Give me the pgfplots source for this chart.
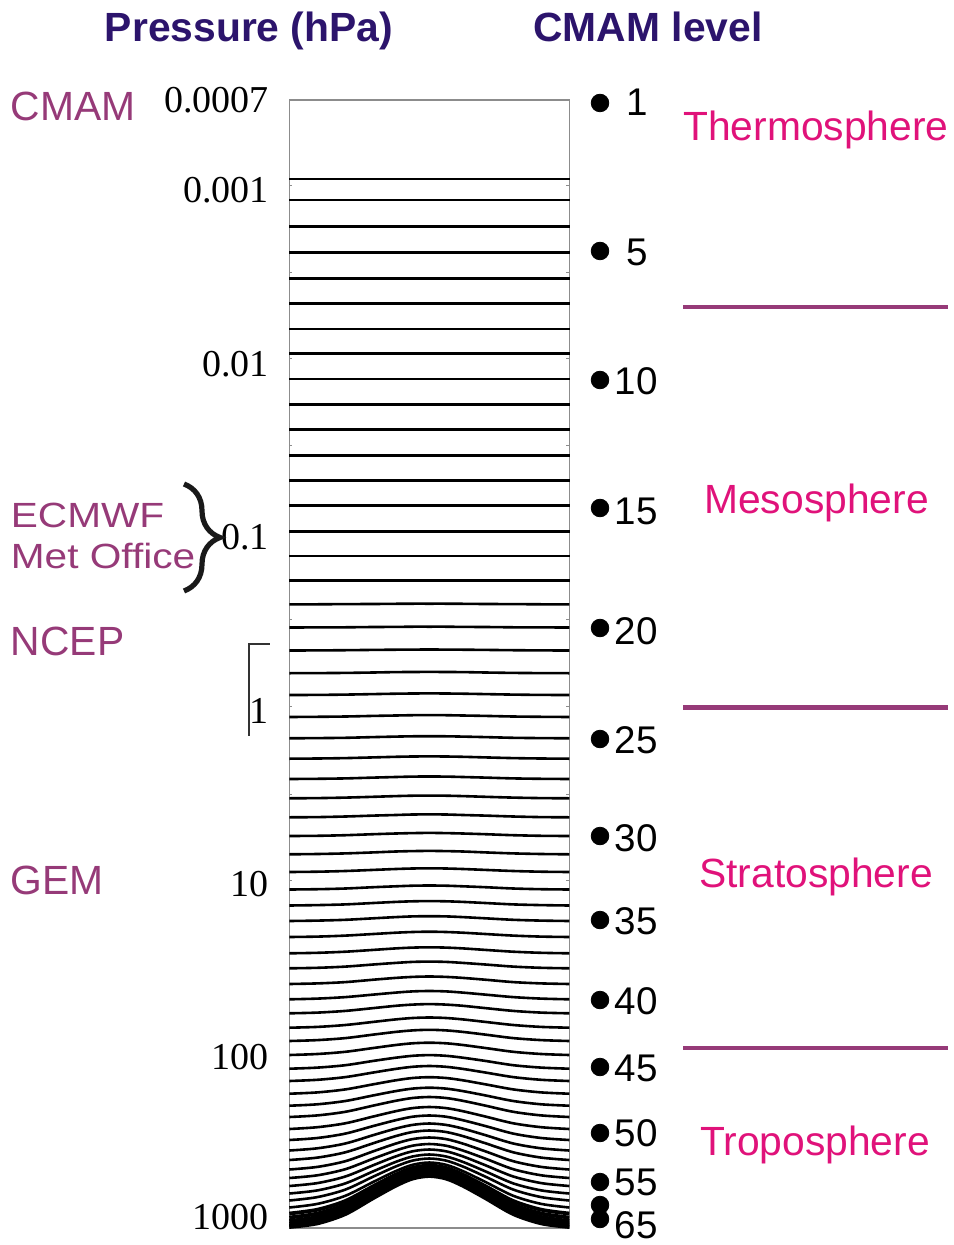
\documentclass[border=0pt]{standalone}
\usepackage{fontspec}
\setmainfont{Liberation Sans}
\newfontfamily\tnr{Liberation Serif}
\newfontfamily\arialwide[FakeStretch=1.16]{Liberation Sans}
\usepackage{pgfplots}
\pgfplotsset{compat=1.18}
\usepackage{pgfplotstable}
\usetikzlibrary{decorations.pathreplacing}
\definecolor{titlenavy}{RGB}{44,20,108}
\definecolor{plum}{RGB}{150,58,120}
\definecolor{layermag}{RGB}{224,18,122}
\newcommand\fsBig{\fontsize{20.4pt}{24pt}\selectfont}
\newcommand\fsMid{\fontsize{17.5pt}{21pt}\selectfont}
\newcommand\fsNum{\fontsize{19.3pt}{23pt}\selectfont}
\newcommand\fsTick{\fontsize{19pt}{22pt}\selectfont}
\pgfplotsset{levline/.style={black, line width=1.3pt, smooth},
             sfcline/.style={black, line width=1.9pt, smooth}}

% model levels 19-59: y position (log-pressure, picture units) at the edge (e),
% on the flanks (a,b,c,d,g) and over the mountain top (p)
\pgfplotstableread{
lev e a b c d g p
19 604.3 604.3 604.1 604.0 603.8 603.7 603.7
20 627.5 627.4 627.3 627.0 626.9 626.7 626.7
21 650.5 650.4 650.2 649.9 649.7 649.6 649.5
22 673.2 673.1 672.9 672.5 672.1 672.0 671.9
23 695.0 694.9 694.6 694.1 693.7 693.5 693.4
24 717.0 716.8 716.5 715.9 715.5 715.2 715.1
25 738.3 738.1 737.8 737.1 736.6 736.3 736.2
26 758.7 758.5 758.1 757.4 756.8 756.5 756.4
27 779.0 778.8 778.4 777.6 777.0 776.6 776.5
28 798.3 798.1 797.6 796.8 796.1 795.7 795.6
29 817.3 817.1 816.5 815.6 815.0 814.5 814.4
30 836.0 835.8 835.2 834.2 833.5 833.1 832.9
31 854.3 854.0 853.4 852.4 851.5 851.1 850.9
32 872.0 871.7 871.0 869.9 869.0 868.5 868.3
33 889.5 889.2 888.5 887.2 886.3 885.7 885.5
34 905.5 905.1 904.4 903.0 901.9 901.3 901.1
35 921.0 920.6 919.8 918.3 917.1 916.4 916.2
36 937.0 936.6 935.6 934.0 932.7 932.0 931.7
37 953.3 952.8 951.7 949.9 948.4 947.6 947.3
38 968.3 967.8 966.6 964.5 962.9 961.9 961.6
39 984.0 983.4 982.1 979.7 977.9 976.9 976.5
40 999.3 998.6 997.1 994.6 992.6 991.4 991.0
41 1013.3 1012.6 1010.9 1008.1 1005.8 1004.6 1004.1
42 1027.7 1026.9 1025.0 1021.9 1019.4 1018.0 1017.5
43 1041.0 1040.1 1038.1 1034.6 1031.9 1030.4 1029.8
44 1055.0 1054.0 1051.8 1048.0 1045.0 1043.3 1042.7
45 1068.7 1067.6 1065.2 1060.9 1057.7 1055.8 1055.1
46 1081.0 1079.8 1077.1 1072.5 1068.9 1066.8 1066.0
47 1093.7 1092.4 1089.4 1084.3 1080.3 1078.0 1077.2
48 1105.7 1104.3 1101.0 1095.4 1091.1 1088.6 1087.7
49 1117.0 1115.4 1111.8 1105.6 1100.8 1098.0 1097.0
50 1129.0 1127.2 1123.3 1116.5 1111.2 1108.1 1107.0
51 1140.0 1138.0 1133.6 1126.0 1120.2 1116.7 1115.5
52 1150.5 1148.3 1143.5 1135.1 1128.6 1124.9 1123.5
53 1160.0 1157.6 1152.3 1143.2 1136.1 1132.0 1130.5
54 1169.5 1166.9 1161.2 1151.3 1143.6 1139.1 1137.5
55 1178.0 1175.3 1169.2 1158.6 1150.5 1145.7 1144.0
56 1186.0 1183.1 1176.5 1165.2 1156.4 1151.3 1149.5
57 1193.5 1190.4 1183.4 1171.3 1161.9 1156.5 1154.5
58 1200.5 1197.1 1189.6 1176.6 1166.5 1160.6 1158.5
59 1207.5 1203.9 1195.8 1181.9 1171.1 1164.8 1162.5
}\uplevels

% lowest model levels 60-65 (near the surface)
\pgfplotstableread{
lev e a b c d g p
60 1213.5 1209.7 1201.0 1186.1 1174.6 1167.9 1165.5
61 1217.5 1213.5 1204.5 1189.0 1177.0 1170.0 1167.5
62 1221.0 1216.9 1207.7 1191.9 1179.7 1172.6 1170.0
63 1223.5 1219.4 1210.1 1194.1 1181.8 1174.6 1172.0
64 1225.5 1221.4 1212.1 1196.1 1183.8 1176.6 1174.0
65 1227.0 1223.4 1214.1 1198.1 1185.8 1178.6 1176.0
}\sfclevels

\newcommand\drawlevels[3]{%
  \pgfplotsforeachungrouped \rowi in {0,...,#2}{%
    \pgfplotstablegetelem{\rowi}{e}\of{#1}\let\ve\pgfplotsretval
    \pgfplotstablegetelem{\rowi}{a}\of{#1}\let\va\pgfplotsretval
    \pgfplotstablegetelem{\rowi}{b}\of{#1}\let\vb\pgfplotsretval
    \pgfplotstablegetelem{\rowi}{c}\of{#1}\let\vc\pgfplotsretval
    \pgfplotstablegetelem{\rowi}{d}\of{#1}\let\vd\pgfplotsretval
    \pgfplotstablegetelem{\rowi}{g}\of{#1}\let\vg\pgfplotsretval
    \pgfplotstablegetelem{\rowi}{p}\of{#1}\let\vp\pgfplotsretval
    \edef\doplot{\noexpand\addplot[#3] coordinates {(289.3,\ve) (317.3,\va) (345.3,\vb) (373.3,\vc) (395.7,\vd) (412.5,\vg) (429.3,\vp) (446.1,\vg) (462.9,\vd) (485.3,\vc) (513.3,\vb) (541.3,\va) (569.3,\ve)};}%
    \doplot
  }%
}

\begin{document}
\begin{tikzpicture}
\begin{axis}[
  scale only axis, width=140pt, height=564pt,
  xmin=289.3, xmax=569.3, ymin=100, ymax=1228, y dir=reverse,
  clip=false,
  axis line style={draw=black!45, line width=0.7pt},
  xtick=\empty,
  ytick={100.5,190.5,364.5,537.5,710.5,884.5,1057.5,1217.5},
  yticklabels={\mbox{\tnr 0.0007},\mbox{\tnr 0.001},\mbox{\tnr 0.01},\mbox{\tnr 0.1},\mbox{\tnr 1},\mbox{\tnr 10},\mbox{\tnr 100},\mbox{\tnr 1000}},
  major tick length=0pt,
  extra y ticks={185.7,272.7,359,446,531.7,619.3,706.7,794,880.7,967.4,1054,1140.7},
  extra y tick labels={},
  extra y tick style={major tick length=1.6pt},
  tick style={draw=black!45, line width=0.5pt},
  tick align=inside, ytick pos=both, yticklabel pos=left,
  yticklabel style={font=\tnr\fsTick, anchor=east, inner sep=0pt, xshift=-10pt},
]
% flat upper levels 2-18
\pgfplotsinvokeforeach{179,200,226.7,252.3,278.7,303.3,329,353.7,379,404.3,429.7,455.3,480.3,505.7,531.7,556,580.3}{
  \addplot[levline] coordinates {(289.3,#1) (569.3,#1)};
}
\drawlevels{\uplevels}{40}{levline}
\drawlevels{\sfclevels}{5}{sfcline}

% CMAM level markers
\addplot[only marks, mark=*, mark size=4.4pt, black] coordinates {
 (600,103) (600,251) (600,380) (600,508) (600,628) (600,739) (600,836)
 (600,920) (600,1000) (600,1067) (600,1133) (600,1182) (600,1205) (600,1219)};

\begin{scope}[every node/.style={inner sep=0pt, font=\fsNum, anchor=west}]
\node at (axis cs:626,102) {1};
\node at (axis cs:626,252) {5};
\node at (axis cs:614.5,381) {10};
\node at (axis cs:614.5,511) {15};
\node at (axis cs:614.5,631) {20};
\node at (axis cs:614.5,740) {25};
\node at (axis cs:614.5,838) {30};
\node at (axis cs:614.5,921) {35};
\node at (axis cs:614.5,1001) {40};
\node at (axis cs:614.5,1068.5) {45};
\node at (axis cs:614.5,1133) {50};
\node at (axis cs:614.5,1182) {55};
\node at (axis cs:614.5,1225) {65};
\end{scope}

% titles
\node[anchor=base, font=\bfseries\fsBig, text=titlenavy, inner sep=0pt] at (axis cs:249,42) {Pressure (hPa)};
\node[anchor=base, font=\bfseries\fsBig, text=titlenavy, inner sep=0pt] at (axis cs:648,42) {CMAM level};

% model lids
\begin{scope}[every node/.style={inner sep=0pt, anchor=base west, text=plum}]
\node[font=\fsBig] at (axis cs:10.5,120.7) {CMAM};
\node[font=\arialwide\fsMid] at (axis cs:10.5,527) {ECMWF};
\node[font=\arialwide\fsMid] at (axis cs:10.5,568) {Met Office};
\node[font=\fsBig] at (axis cs:10.5,655) {NCEP};
\node[font=\fsBig] at (axis cs:10.5,894.5) {GEM};
\end{scope}
\draw[decorate, decoration={brace, amplitude=18pt}, line width=2.6pt, black!90]
  (axis cs:184,484) -- (axis cs:184,591);
\draw[black!80, line width=0.6pt] (axis cs:270,644) -- (axis cs:249,644) -- (axis cs:249,736);

% atmospheric layers
\begin{scope}[every node/.style={inner sep=0pt, anchor=base, text=layermag, font=\fsBig}]
\node at (axis cs:816,141) {Thermosphere};
\node at (axis cs:816.5,513) {Mesosphere};
\node at (axis cs:816,887.5) {Stratosphere};
\node at (axis cs:815,1155) {Troposphere};
\end{scope}
\draw[plum, line width=2.2pt] (axis cs:683,307.3) -- (axis cs:948,307.3);
\draw[plum, line width=2.2pt] (axis cs:683,707.3) -- (axis cs:948,707.3);
\draw[plum, line width=2.2pt] (axis cs:683,1047.7) -- (axis cs:948,1047.7);

\path (axis cs:0,0) rectangle (axis cs:953,1245);
\end{axis}
\end{tikzpicture}
\end{document}
